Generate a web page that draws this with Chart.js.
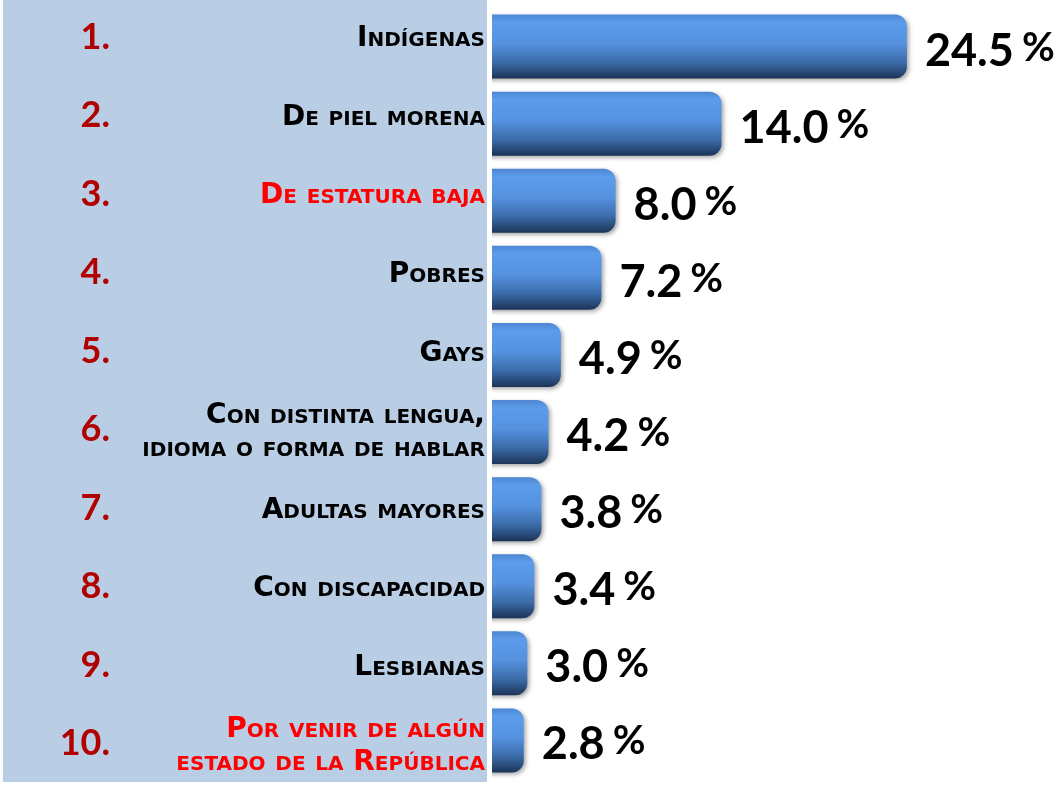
<!DOCTYPE html>
<html>
<head>
<meta charset="utf-8">
<script src="https://cdn.jsdelivr.net/npm/chart.js@4"></script>
<style>
  html, body { margin: 0; padding: 0; background: #fff; }
  #wrap { position: relative; width: 1057px; height: 786px; }
  #panel { position: absolute; left: 3px; top: 0; width: 484px; height: 782px; background: #b9cde5; }
  #chart { position: absolute; left: 0; top: 0; }
</style>
</head>
<body>
<div id="wrap">
  <div id="panel"></div>
  <canvas id="chart" width="1057" height="786"></canvas>
</div>
<script>
  const rangos = [1, 2, 3, 4, 5, 6, 7, 8, 9, 10];
  const categorias = [
    'Indígenas',
    'De piel morena',
    'De estatura baja',
    'Pobres',
    'Gays',
    ['Con distinta lengua,', 'idioma o forma de hablar'],
    'Adultas mayores',
    'Con discapacidad',
    'Lesbianas',
    ['Por venir de algún', 'estado de la República']
  ];
  const valores = [24.5, 14.0, 8.0, 7.2, 4.9, 4.2, 3.8, 3.4, 3.0, 2.8];
  const destacadas = [3, 10]; // rangos con etiqueta en rojo

  // sombra suave debajo de las barras
  const sombra = {
    id: 'sombra',
    beforeDatasetsDraw(chart) {
      const c = chart.ctx;
      c.save();
      c.shadowColor = 'rgba(0, 0, 0, 0.35)';
      c.shadowBlur = 4;
      c.shadowOffsetX = 2;
      c.shadowOffsetY = 2;
    },
    afterDatasetsDraw(chart) {
      chart.ctx.restore();
    }
  };

  // "24.5 %" al final de cada barra
  const etiquetasValor = {
    id: 'etiquetasValor',
    afterDatasetsDraw(chart) {
      const c = chart.ctx;
      const meta = chart.getDatasetMeta(0);
      c.save();
      c.fillStyle = '#000';
      c.textBaseline = 'alphabetic';
      c.textAlign = 'left';
      meta.data.forEach((barra, i) => {
        const txt = valores[i].toFixed(1);
        const x = barra.x + 18;
        const base = barra.y + 19;
        c.font = 'bold 45px Lato';
        c.fillText(txt, x, base);
        const w = c.measureText(txt).width;
        c.font = 'bold 40px Lato';
        c.fillText('%', x + w + 8, base - 5);
      });
      c.restore();
    }
  };

  function degradado(ctx) {
    const chart = ctx.chart;
    const y = chart.scales.y;
    if (ctx.type !== 'data' || !chart.chartArea || !y) return '#5592de';
    const centro = y.getPixelForValue(ctx.dataIndex);
    const alto = (y.getPixelForValue(1) - y.getPixelForValue(0)) * 0.83;
    const g = chart.ctx.createLinearGradient(0, centro - alto / 2, 0, centro + alto / 2);
    g.addColorStop(0, '#4d86d2');
    g.addColorStop(0.12, '#5c9cea');
    g.addColorStop(0.45, '#5592e0');
    g.addColorStop(0.75, '#3b6ba8');
    g.addColorStop(1, '#1b3457');
    return g;
  }

  const sinPadding = (eje, ancho) => {
    eje.width = ancho;
    eje.paddingTop = 0;
    eje.paddingBottom = 0;
  };

  let ctx = document.getElementById('chart').getContext('2d');
  let grafica = new Chart(ctx, {
    type: 'bar',
    data: {
      labels: categorias,
      datasets: [{
        data: valores,
        backgroundColor: degradado,
        borderRadius: 12,
        borderSkipped: 'start',
        barPercentage: 0.83,
        categoryPercentage: 1,
        yAxisID: 'y'
      }]
    },
    options: {
      indexAxis: 'y',
      responsive: false,
      animation: false,
      devicePixelRatio: 1,
      layout: { padding: { top: 8, bottom: 7, left: 0, right: 0 } },
      scales: {
        x: { display: false, min: 1, max: 33 },
        y: { display: false },
        yLbl: {
          type: 'linear',
          position: 'left',
          reverse: true,
          offset: false,
          min: 0.605,
          max: 10.42,
          weight: 0,
          grid: { display: false, drawTicks: false, offset: false },
          border: { display: false },
          afterBuildTicks: eje => { eje.ticks = rangos.map(v => ({ value: v })); },
          afterFit: eje => sinPadding(eje, 380),
          ticks: {
            autoSkip: false,
            padding: 7,
            color: c => destacadas.includes(c.tick.value) ? '#ff0000' : '#000000',
            font: { family: "'DejaVu Sans', sans-serif", size: 28, weight: 'small-caps bold', lineHeight: '33px' },
            callback: v => categorias[v - 1]
          }
        },
        yNum: {
          type: 'linear',
          position: 'left',
          reverse: true,
          offset: false,
          min: 0.63,
          max: 10.45,
          weight: 1,
          grid: { display: false, drawTicks: false, offset: false },
          border: { display: false },
          afterBuildTicks: eje => { eje.ticks = rangos.map(v => ({ value: v })); },
          afterFit: eje => sinPadding(eje, 112),
          ticks: {
            autoSkip: false,
            padding: 2,
            color: '#b00000',
            font: { family: 'Lato', size: 36, weight: 'bold' },
            callback: v => v + '.'
          }
        }
      },
      plugins: {
        legend: { display: false },
        title: { display: false },
        tooltip: { enabled: false }
      }
    },
    plugins: [sombra, etiquetasValor]
  });
</script>
</body>
</html>
